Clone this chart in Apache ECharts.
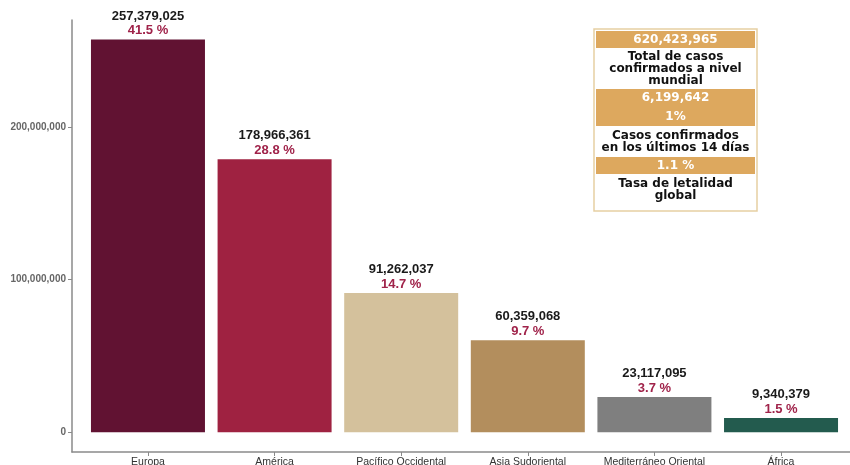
<!DOCTYPE html>
<html><head><meta charset="utf-8">
<script src="https://cdn.jsdelivr.net/npm/echarts@6/dist/echarts.min.js"></script>
<style>html,body{margin:0;padding:0;background:#fff}#c{width:850px;height:465px}</style>
</head><body><div id="c"></div>
<script>
const categories = ["Europa", "América", "Pacífico Occidental", "Asia Sudoriental", "Mediterráneo Oriental", "África"];
const casos = [257379025, 178966361, 91262037, 60359068, 23117095, 9340379];
const porcentajes = ["41.5 %", "28.8 %", "14.7 %", "9.7 %", "3.7 %", "1.5 %"];
const colores = ["#611232", "#9f2241", "#d4c19c", "#b38e5d", "#7f7f7f", "#235b4e"];
const yTicks = [0, 100000000, 200000000];
const boxRows = [
  {text: "620,423,965", tan: true, h: 17},
  {text: "Total de casos\nconfirmados a nivel\nmundial", tan: false, h: 41},
  {text: "6,199,642", tan: true, h: 18},
  {text: "1%", tan: true, h: 19},
  {text: "Casos confirmados\nen los últimos 14 días", tan: false, h: 31},
  {text: "1.1 %", tan: true, h: 17},
  {text: "Tasa de letalidad\nglobal", tan: false, h: 32}
];

const fmt = v => v.toLocaleString('en-US');
const chart = echarts.init(document.getElementById('c'));

const boxX = 594, boxY = 29, boxW = 163;
const graphics = [];
let yy = boxY + 2;
graphics.push({type:'rect', shape:{x:boxX, y:boxY, width:boxW, height:182}, style:{fill:'#fff', stroke:'#e6cfa3', lineWidth:1.5}});
boxRows.forEach(r => {
  if (r.tan) graphics.push({type:'rect', shape:{x:boxX+2, y:yy, width:boxW-4, height:r.h}, style:{fill:'#dda85e'}});
  graphics.push({type:'text', x:boxX+boxW/2, y:yy+r.h/2, style:{text:r.text, fill:r.tan?'#fff':'#111', font:'bold 12px "DejaVu Sans"', align:'center', verticalAlign:'middle', lineHeight:12}});
  yy += r.h;
});

chart.setOption({
  animation:false,
  backgroundColor:'#fff',
  grid:{left:72, right:-7, top:20, bottom:13, containLabel:false, outerBoundsMode:'none'},
  xAxis:{type:'value', min:-0.6, max:5.6, splitLine:{show:false},
    axisLine:{show:true, onZero:false, lineStyle:{color:'#8a8a8a', width:1.5}},
    axisTick:{show:true, length:4, customValues:[0,1,2,3,4,5], lineStyle:{color:'#8a8a8a'}},
    axisLabel:{customValues:[0,1,2,3,4,5], formatter:v=>categories[Math.round(v)], color:'#333', fontSize:10.5, margin:5, fontFamily:'Liberation Sans'}
  },
  yAxis:{type:'value', min:-12870000, max:270200000, splitLine:{show:false},
    axisLine:{show:true, onZero:false, lineStyle:{color:'#8a8a8a', width:1.5}},
    axisTick:{show:true, length:4, customValues:yTicks, lineStyle:{color:'#8a8a8a'}},
    axisLabel:{customValues:yTicks, formatter:v=>fmt(v), color:'#666', fontSize:10, fontWeight:'bold', margin:6, fontFamily:'Liberation Sans'}
  },
  series:[{type:'bar', barWidth:114,
    data: casos.map((v,i)=>({value:[i,v], itemStyle:{color:colores[i]}})),
    label:{show:true, position:'top', distance:2, fontFamily:'Liberation Sans',
      formatter: p => '{a|'+fmt(casos[p.dataIndex])+'}\n{b|'+porcentajes[p.dataIndex]+'}',
      rich:{a:{fontSize:13, fontWeight:'bold', color:'#1a1a1a', lineHeight:15, fontFamily:'Liberation Sans'},
            b:{fontSize:13, fontWeight:'bold', color:'#a0234a', lineHeight:14, fontFamily:'Liberation Sans'}}
    }
  }],
  graphic: graphics
});
</script></body></html>
